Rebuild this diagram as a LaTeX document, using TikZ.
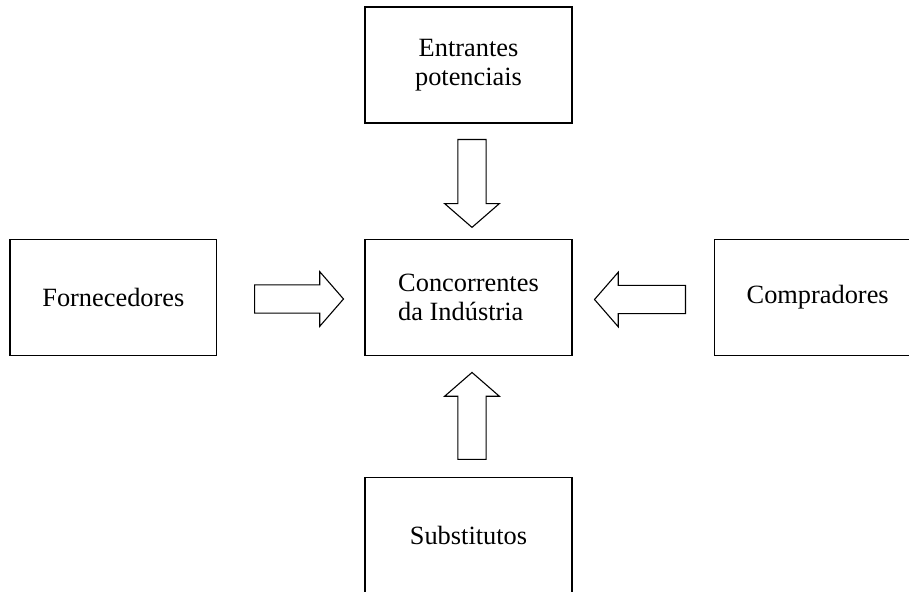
\documentclass[tikz,border=0pt]{standalone}
\usepackage{fontspec}
\setmainfont{Liberation Serif}
\usetikzlibrary{positioning,shapes.arrows}

\begin{document}
\begin{tikzpicture}[x=0.4553pt,y=-0.4553pt,
    force/.style={draw,line width=0.6pt,minimum width=94.2pt,minimum height=52.8pt,
      align=center,font=\fontsize{12pt}{13.5pt}\selectfont},
    push/.style={draw,line width=0.5pt,single arrow,anchor=tail,inner sep=6.2pt,minimum width=24.3pt,
      single arrow head extend=6pt,single arrow tip angle=98,single arrow head indent=0pt}]
  \useasboundingbox (0,0) rectangle (909,592);

  \node[force,align=left] (rival) at (468.5,297.5) {Concorrentes\\da Indústria};
  \node[force,above=52.4pt of rival] (entrants) {Entrantes\\potenciais};
  \node[force,left=66.9pt of rival] (suppliers) {Fornecedores};
  \node[force,right=64.2pt of rival] (buyers) {Compradores};
  \node[force,below=55.1pt of rival] (subst) {Substitutos};

  \node[push,minimum height=40pt,shape border rotate=270] (a1) at (472,139) {};
  \node[push,minimum height=40.5pt] (a2) at (254,299) {};
  \node[push,minimum height=41.4pt,shape border rotate=180] (a3) at (686,299.5) {};
  \node[push,minimum height=39.6pt,shape border rotate=90] (a4) at (472,460) {};
\end{tikzpicture}
\end{document}
